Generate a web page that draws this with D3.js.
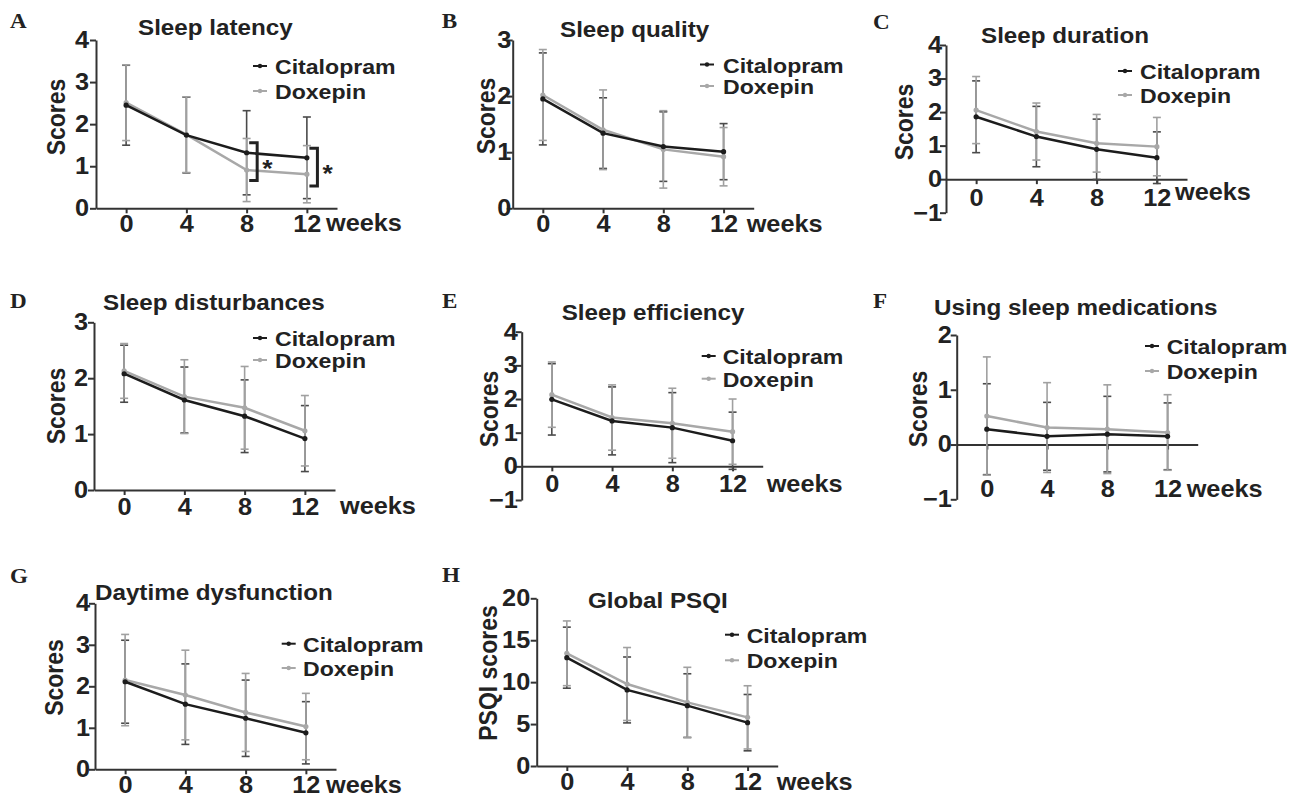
<!DOCTYPE html>
<html>
<head>
<meta charset="utf-8">
<script src="https://cdn.jsdelivr.net/npm/d3@7"></script>
<style>
  body { margin: 0; background: #fff; }
  svg { display: block; }
</style>
</head>
<body>
<svg id="fig" width="1306" height="797"></svg>
<script>
// weeks of follow-up and the two treatment groups
var weeks = [0, 4, 8, 12];
var seriesNames = ["Citalopram", "Doxepin"];

// mean and SD per week
var latencyCit = [2.45, 1.74, 1.32, 1.20], latencyCitSd = [0.95, 0.90, 1.00, 0.97];
var latencyDox = [2.51, 1.75, 0.91, 0.81], latencyDoxSd = [0.90, 0.90, 0.75, 0.68];

var qualityCit = [1.95, 1.34, 1.10, 1.01], qualityCitSd = [0.82, 0.63, 0.62, 0.50];
var qualityDox = [2.02, 1.40, 1.05, 0.92], qualityDoxSd = [0.81, 0.71, 0.69, 0.52];

var durationCit = [1.86, 1.27, 0.89, 0.64], durationCitSd = [1.07, 0.90, 0.90, 0.77];
var durationDox = [2.06, 1.42, 1.07, 0.97], durationDoxSd = [1.00, 0.85, 0.86, 0.87];

var disturbCit = [2.08, 1.61, 1.32, 0.92], disturbCitSd = [0.51, 0.59, 0.65, 0.59];
var disturbDox = [2.13, 1.67, 1.47, 1.06], disturbDoxSd = [0.49, 0.66, 0.74, 0.63];

var efficiencyCit = [1.99, 1.35, 1.15, 0.76], efficiencyCitSd = [1.06, 1.01, 1.04, 0.85];
var efficiencyDox = [2.13, 1.45, 1.28, 1.03], efficiencyDoxSd = [0.97, 0.97, 1.04, 0.97];

var medsCit = [0.28, 0.15, 0.19, 0.15], medsCitSd = [0.83, 0.62, 0.69, 0.61];
var medsDox = [0.52, 0.31, 0.28, 0.22], medsDoxSd = [1.08, 0.82, 0.81, 0.69];

var daytimeCit = [2.11, 1.57, 1.23, 0.88], daytimeCitSd = [1.00, 0.97, 0.92, 0.75];
var daytimeDox = [2.15, 1.79, 1.37, 1.03], daytimeDoxSd = [1.10, 1.08, 0.94, 0.80];

var psqiCit = [12.92, 9.07, 7.20, 5.17], psqiCitSd = [3.64, 3.93, 3.80, 3.36];
var psqiDox = [13.44, 9.78, 7.59, 5.80], psqiDoxSd = [3.86, 4.35, 4.18, 3.77];

// significance brackets in panel A (week, top, bottom in score units)
var sigWeeks = [8, 12];
var sigTop = [1.56, 1.43];
var sigBottom = [0.66, 0.53];

var SX = 1.1;          // the source figure is slightly stretched horizontally
var FONT = "'Liberation Sans', Arial, sans-serif";
var SERIF = "'Liberation Serif', 'Times New Roman', serif";
var AXIS = "#333";
var TEXT = "#222";
var COLORS = { line: ["#1c1c1c", "#a8a8a8"], bar: ["#4a4a4a", "#a0a0a0"] };

var panels = [
    { letter: "A", title: "Sleep latency", ylabel: "Scores", cit: [latencyCit, latencyCitSd], dox: [latencyDox, latencyDoxSd],
      yDomain: [0, 4], yTicks: [0, 1, 2, 3, 4], left: 96, top: 40, bottom: 208.3, yGap: 7,
      letterPos: [10, 28], titlePos: [138, 35], ylabelPos: [65, 117], legend: [253, 275, 74, 99], weeksPos: [326, 231], xDy: 23.5 },
    { letter: "B", title: "Sleep quality", ylabel: "Scores", cit: [qualityCit, qualityCitSd], dox: [qualityDox, qualityDoxSd],
      yDomain: [0, 3], yTicks: [0, 1, 2, 3], left: 512.7, top: 40, bottom: 208.3, yGap: 1.5,
      letterPos: [441.7, 28], titlePos: [560, 37], ylabelPos: [495, 116], legend: [700, 723, 72.5, 94], weeksPos: [746.7, 231.7], xDy: 23.4 },
    { letter: "C", title: "Sleep duration", ylabel: "Scores", cit: [durationCit, durationCitSd], dox: [durationDox, durationDoxSd],
      yDomain: [-1, 4], yTicks: [-1, 0, 1, 2, 3, 4], left: 946, top: 45, bottom: 212.7, yGap: 4,
      letterPos: [873, 29], titlePos: [981, 43], ylabelPos: [913.3, 122], legend: [1118, 1140, 79, 103], weeksPos: [1175, 200], xDy: 27 },
    { letter: "D", title: "Sleep disturbances", ylabel: "Scores", cit: [disturbCit, disturbCitSd], dox: [disturbDox, disturbDoxSd],
      yDomain: [0, 3], yTicks: [0, 1, 2, 3], left: 94, top: 322.3, bottom: 490, yGap: 6,
      letterPos: [10, 308], titlePos: [103, 310], ylabelPos: [65, 406], legend: [253, 275, 346, 368], weeksPos: [340, 514], xDy: 25 },
    { letter: "E", title: "Sleep efficiency", ylabel: "Scores", cit: [efficiencyCit, efficiencyCitSd], dox: [efficiencyDox, efficiencyDoxSd],
      yDomain: [-1, 4], yTicks: [-1, 0, 1, 2, 3, 4], left: 521.7, top: 331.7, bottom: 500, yGap: 4,
      letterPos: [442, 308], titlePos: [561.7, 320], ylabelPos: [498.3, 409], legend: [701.7, 722.7, 364, 386.7], weeksPos: [766.7, 491.7], xDy: 25.7 },
    { letter: "F", title: "Using sleep medications", ylabel: "Scores", cit: [medsCit, medsCitSd], dox: [medsDox, medsDoxSd],
      yDomain: [-1, 2], yTicks: [-1, 0, 1, 2], left: 956.7, top: 335, bottom: 499.3, yGap: 5,
      letterPos: [873, 308], titlePos: [934, 315], ylabelPos: [926.7, 409], legend: [1145, 1166.7, 354, 379], weeksPos: [1186.7, 496.7], xDy: 52 },
    { letter: "G", title: "Daytime dysfunction", ylabel: "Scores", cit: [daytimeCit, daytimeCitSd], dox: [daytimeDox, daytimeDoxSd],
      yDomain: [0, 4], yTicks: [0, 1, 2, 3, 4], left: 95, top: 603.3, bottom: 769.3, yGap: 5,
      letterPos: [10, 582.7], titlePos: [95, 600], ylabelPos: [63.3, 677.5], legend: [281.7, 303, 651.7, 676], weeksPos: [326, 793], xDy: 24 },
    { letter: "H", title: "Global PSQI", ylabel: "PSQI scores", cit: [psqiCit, psqiCitSd], dox: [psqiDox, psqiDoxSd],
      yDomain: [0, 20], yTicks: [0, 5, 10, 15, 20], left: 536.7, top: 598.3, bottom: 766, yGap: 6.5,
      letterPos: [442, 582], titlePos: [588, 608.3], ylabelPos: [497, 673], legend: [725, 746.7, 642.7, 668.3], weeksPos: [776.7, 790], xDy: 24 }
];

var svg = d3.select("#fig");

function addText(g, pos, str, size, opts) {
    opts = opts || {};
    return g.append("text")
        .attr("transform", "translate(" + pos[0] + "," + pos[1] + ") scale(" + SX + ",1)" + (opts.rotate ? " rotate(-90)" : ""))
        .attr("font-family", opts.family || FONT)
        .attr("font-size", size)
        .attr("font-weight", "bold")
        .attr("text-anchor", opts.anchor || "start")
        .attr("fill", TEXT)
        .text(str);
}

function styleAxis(a) {
    a.attr("font-family", FONT).attr("font-size", 23);
    a.select(".domain").attr("stroke", AXIS).attr("stroke-width", 2);
    a.selectAll(".tick line").attr("stroke", AXIS).attr("stroke-width", 2);
    a.selectAll(".tick text")
        .attr("font-weight", "bold")
        .attr("fill", TEXT)
        .attr("transform", "scale(" + SX + ",1)");
}

panels.forEach(function (p) {
    var g = svg.append("g");
    var x = d3.scaleLinear().domain([-2, 14]).range([p.left, p.left + 241]);
    var y = d3.scaleLinear().domain(p.yDomain).range([p.bottom, p.top]);

    var yAxis = g.append("g")
        .attr("transform", "translate(" + p.left + ",0)")
        .call(d3.axisLeft(y).tickValues(p.yTicks).tickFormat(d3.format("d"))
            .tickSize(6).tickSizeOuter(0).tickPadding(p.yGap / SX - 6));
    styleAxis(yAxis);

    var xAxis = g.append("g")
        .attr("transform", "translate(0," + y(0) + ")")
        .call(d3.axisBottom(x).tickValues(weeks).tickFormat(d3.format("d"))
            .tickSize(5).tickSizeOuter(0).tickPadding(p.xDy - 5 - 0.71 * 23));
    styleAxis(xAxis);

    addText(g, p.letterPos, p.letter, 21, { family: SERIF });
    addText(g, p.titlePos, p.title, 22);
    addText(g, p.ylabelPos, p.ylabel, 23, { rotate: true, anchor: "middle" });
    addText(g, p.weeksPos, "weeks", 23);

    var series = [p.cit, p.dox].map(function (s, k) {
        return {
            k: k,
            pts: weeks.map(function (w, i) { return { w: w, m: s[0][i], sd: s[1][i] }; })
        };
    });

    // error bars, citalopram first so doxepin sits on top
    series.forEach(function (s) {
        var eb = g.append("g")
            .attr("stroke", COLORS.bar[s.k])
            .attr("stroke-width", 1.6);
        eb.selectAll("line.v").data(s.pts).join("line")
            .attr("x1", function (d) { return x(d.w); })
            .attr("x2", function (d) { return x(d.w); })
            .attr("y1", function (d) { return y(d.m + d.sd); })
            .attr("y2", function (d) { return y(d.m - d.sd); });
        [1, -1].forEach(function (sign) {
            eb.selectAll("line.c" + sign).data(s.pts).join("line")
                .attr("x1", function (d) { return x(d.w) - 4; })
                .attr("x2", function (d) { return x(d.w) + 4; })
                .attr("y1", function (d) { return y(d.m + sign * d.sd); })
                .attr("y2", function (d) { return y(d.m + sign * d.sd); });
        });
    });

    var line = d3.line()
        .x(function (d) { return x(d.w); })
        .y(function (d) { return y(d.m); });

    [series[1], series[0]].forEach(function (s) {
        g.append("path")
            .datum(s.pts)
            .attr("d", line)
            .attr("fill", "none")
            .attr("stroke", COLORS.line[s.k])
            .attr("stroke-width", 2.5);
        g.selectAll("circle.m" + s.k).data(s.pts).join("circle")
            .attr("cx", function (d) { return x(d.w); })
            .attr("cy", function (d) { return y(d.m); })
            .attr("r", 2.6)
            .attr("fill", COLORS.line[s.k]);
    });

    // legend
    var lg = p.legend;
    seriesNames.forEach(function (name, k) {
        var by = lg[2 + k];
        g.append("line")
            .attr("x1", lg[0]).attr("x2", lg[0] + 14)
            .attr("y1", by - 8).attr("y2", by - 8)
            .attr("stroke", COLORS.line[k]).attr("stroke-width", 2);
        g.append("circle")
            .attr("cx", lg[0] + 7).attr("cy", by - 8).attr("r", 2.2)
            .attr("fill", COLORS.line[k]);
        addText(g, [lg[1], by], name, 21);
    });

    if (p.letter === "A") {
        var br = g.append("g");
        sigWeeks.forEach(function (w, i) {
            var bx = x(w + 0.7), arm = 8;
            var t = y(sigTop[i]), b = y(sigBottom[i]);
            br.append("path")
                .attr("d", "M" + (bx - arm) + "," + t + "H" + bx + "V" + b + "H" + (bx - arm))
                .attr("fill", "none")
                .attr("stroke", "#222")
                .attr("stroke-width", 3);
            addText(br, [bx + 5, (t + b) / 2 + 15], "*", 24, { family: FONT });
        });
    }
});
</script>
</body>
</html>
